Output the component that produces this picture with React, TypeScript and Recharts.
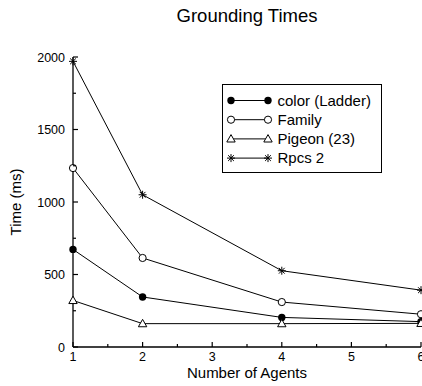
import { LineChart, Line, XAxis, YAxis } from 'recharts';

const agents = [1, 2, 4, 6];
const colorLadder = [673, 345, 204, 175];
const family = [1234, 614, 310, 226];
const pigeon = [321, 161, 161, 163];
const rpcs2 = [1970, 1050, 526, 392];

const xTicks = [1, 1.5, 2, 2.5, 3, 3.5, 4, 4.5, 5, 5.5, 6];
const yTicks = [0, 250, 500, 750, 1000, 1250, 1500, 1750, 2000];

const seriesNames = ['color (Ladder)', 'Family', 'Pigeon (23)', 'Rpcs 2'];
const seriesKeys = ['color', 'family', 'pigeon', 'rpcs'];
const seriesShapes = ['filled', 'open', 'triangle', 'star'];

const data = agents.map((a, i) => ({
  agents: a,
  color: colorLadder[i],
  family: family[i],
  pigeon: pigeon[i],
  rpcs: rpcs2[i],
}));

const font = '"Liberation Sans", Arial, Helvetica, sans-serif';

function Marker({ shape, cx, cy }: { shape: string; cx: number; cy: number }) {
  if (shape === 'filled') return <circle cx={cx} cy={cy} r={3.7} fill="#000" />;
  if (shape === 'open') return <circle cx={cx} cy={cy} r={3.6} fill="#fff" stroke="#000" strokeWidth={1} />;
  if (shape === 'triangle')
    return (
      <polygon
        points={`${cx},${cy - 4.3} ${cx - 4.2},${cy + 3.1} ${cx + 4.2},${cy + 3.1}`}
        fill="#fff"
        stroke="#000"
        strokeWidth={1}
      />
    );
  const r = 4;
  const d = r * 0.72;
  return (
    <g stroke="#000" strokeWidth={1}>
      <line x1={cx - r} y1={cy} x2={cx + r} y2={cy} />
      <line x1={cx} y1={cy - r} x2={cx} y2={cy + r} />
      <line x1={cx - d} y1={cy - d} x2={cx + d} y2={cy + d} />
      <line x1={cx - d} y1={cy + d} x2={cx + d} y2={cy - d} />
    </g>
  );
}

const dotFor = (shape: string) => (p: any) => (
  <Marker key={p.index} shape={shape} cx={p.cx} cy={p.cy} />
);

const isMajorX = (v: number) => Number.isInteger(v);
const isMajorY = (v: number) => v % 500 === 0;

function BottomTick(p: any) {
  const v = p.payload.value;
  const len = isMajorX(v) ? 5 : 3;
  return (
    <g>
      <line x1={p.x} y1={p.y} x2={p.x} y2={p.y - len} stroke="#000" strokeWidth={1.2} />
      {isMajorX(v) && (
        <text x={p.x} y={p.y + 14} textAnchor="middle" fontSize={12.5} fontFamily={font} fill="#000">
          {v}
        </text>
      )}
    </g>
  );
}

function TopTick(p: any) {
  const len = isMajorX(p.payload.value) ? 5 : 3;
  return <line x1={p.x} y1={p.y} x2={p.x} y2={p.y + len} stroke="#000" strokeWidth={1.2} />;
}

function LeftTick(p: any) {
  const v = p.payload.value;
  const len = isMajorY(v) ? 5 : 3;
  return (
    <g>
      <line x1={p.x} y1={p.y} x2={p.x + len} y2={p.y} stroke="#000" strokeWidth={1.2} />
      {isMajorY(v) && (
        <text x={p.x - 8} y={p.y + 4.5} textAnchor="end" fontSize={12.5} fontFamily={font} fill="#000">
          {v}
        </text>
      )}
    </g>
  );
}

function RightTick(p: any) {
  const len = isMajorY(p.payload.value) ? 5 : 3;
  return <line x1={p.x} y1={p.y} x2={p.x - len} y2={p.y} stroke="#000" strokeWidth={1.2} />;
}

function LegendBox() {
  return (
    <svg width={160} height={89} style={{ display: 'block' }}>
      <rect x={0.5} y={0.5} width={159} height={88} fill="#fff" stroke="#000" strokeWidth={1} />
      {seriesNames.map((name, i) => {
        const y = 16.5 + i * 19.2;
        return (
          <g key={name}>
            <line x1={9} y1={y} x2={46} y2={y} stroke="#000" strokeWidth={1} />
            <Marker shape={seriesShapes[i]} cx={9} cy={y} />
            <Marker shape={seriesShapes[i]} cx={46} cy={y} />
            <text x={55.5} y={y + 5.3} fontSize={15} fontFamily={font} fill="#000">
              {name}
            </text>
          </g>
        );
      })}
    </svg>
  );
}

export default function App() {
  return (
    <div style={{ position: 'absolute', left: 0, top: 0, width: 422, height: 386, background: '#fff', fontFamily: font }}>
      <div
        style={{
          position: 'absolute',
          left: 147,
          top: 7,
          width: 200,
          textAlign: 'center',
          fontSize: 18.5,
          lineHeight: '18.5px',
          color: '#000',
        }}
      >
        Grounding Times
      </div>
      <LineChart width={422} height={386} data={data} margin={{ top: 57, right: 1, bottom: 0, left: 0 }}>
        <XAxis
          xAxisId="b"
          dataKey="agents"
          type="number"
          domain={[1, 6]}
          ticks={xTicks}
          interval={0}
          orientation="bottom"
          height={39}
          tickSize={0}
          tickMargin={0}
          tickLine={false}
          axisLine={{ stroke: '#000', strokeWidth: 1.3 }}
          tick={BottomTick}
          label={{ value: 'Number of Agents', position: 'insideBottom', offset: 8, fontSize: 15, fontFamily: font, fill: '#000' }}
        />
        <XAxis
          xAxisId="t"
          dataKey="agents"
          type="number"
          domain={[1, 6]}
          ticks={xTicks}
          interval={0}
          orientation="top"
          height={0}
          tickSize={0}
          tickMargin={0}
          tickLine={false}
          axisLine={{ stroke: '#000', strokeWidth: 1.3 }}
          tick={TopTick}
        />
        <YAxis
          yAxisId="l"
          type="number"
          domain={[0, 2000]}
          ticks={yTicks}
          interval={0}
          orientation="left"
          width={73}
          tickSize={0}
          tickMargin={0}
          tickLine={false}
          axisLine={{ stroke: '#000', strokeWidth: 1.3 }}
          tick={LeftTick}
          label={{
            content: () => (
              <text
                x={21}
                y={202}
                transform="rotate(-90 21 202)"
                textAnchor="middle"
                fontSize={15}
                fontFamily={font}
                fill="#000"
              >
                Time (ms)
              </text>
            ),
          }}
        />
        <YAxis
          yAxisId="r"
          type="number"
          domain={[0, 2000]}
          ticks={yTicks}
          interval={0}
          orientation="right"
          width={0}
          tickSize={0}
          tickMargin={0}
          tickLine={false}
          axisLine={{ stroke: '#000', strokeWidth: 1.3 }}
          tick={RightTick}
        />
        {seriesKeys.map((k, i) => (
          <Line
            key={k}
            xAxisId="b"
            yAxisId="l"
            dataKey={k}
            name={seriesNames[i]}
            type="linear"
            stroke="#000"
            strokeWidth={1}
            dot={dotFor(seriesShapes[i])}
            activeDot={false}
            isAnimationActive={false}
          />
        ))}
      </LineChart>
      <div style={{ position: 'absolute', left: 222, top: 84 }}>
        <LegendBox />
      </div>
    </div>
  );
}
